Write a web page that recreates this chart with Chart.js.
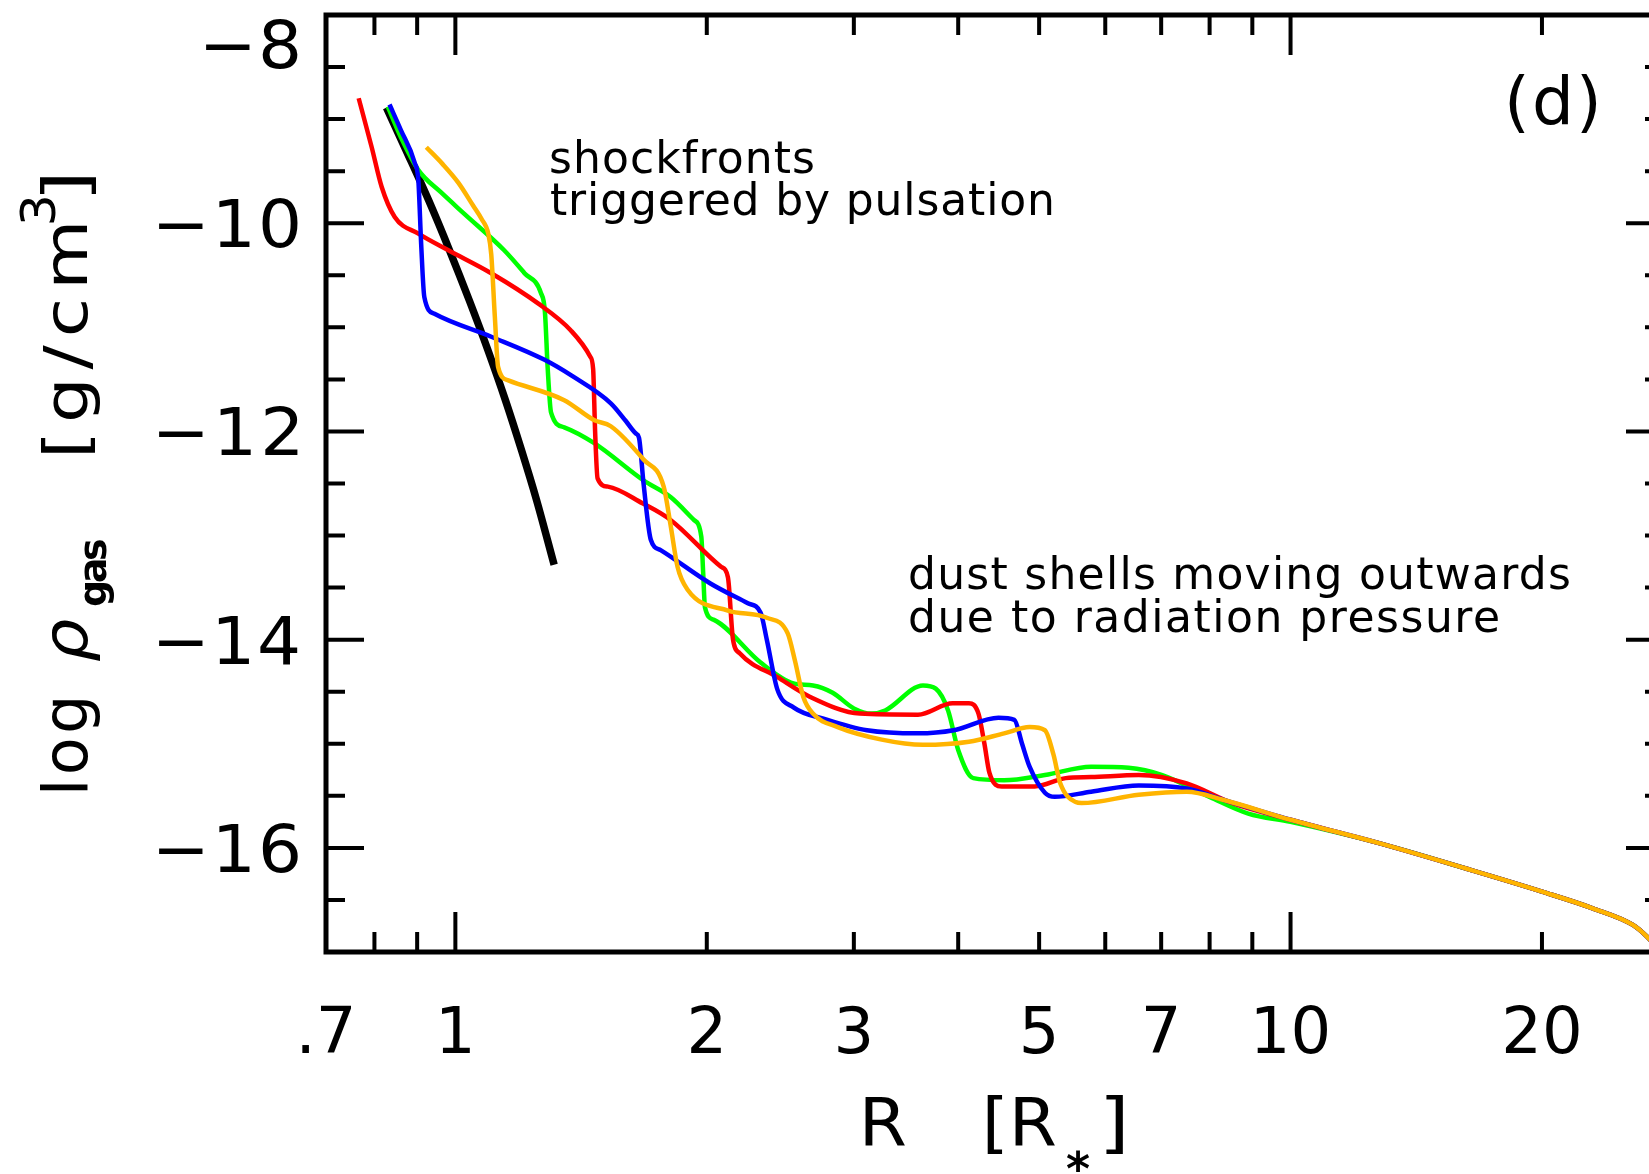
<!DOCTYPE html>
<html>
<head>
<meta charset="utf-8">
<script src="https://cdn.jsdelivr.net/npm/chart.js@4.4.1/dist/chart.umd.min.js"></script>
<style>
  html, body { margin: 0; padding: 0; background: #fff; overflow: hidden; }
  #wrap { position: relative; width: 1700px; height: 1174px; }
</style>
</head>
<body>
<div id="wrap"><canvas id="chart"></canvas></div>
<script>
  // Axis ticks
  const xTickValues = [0.7, 0.8, 0.9, 1, 2, 3, 4, 5, 6, 7, 8, 9, 10, 20];
  const xMajorValues = [1, 10];
  const xLabelValues = [0.7, 1, 2, 3, 5, 7, 10, 20];
  const xLabels = ['.7', '1', '2', '3', '5', '7', '10', '20'];
  const yTickValues = [-17, -16.5, -16, -15.5, -15, -14.5, -14, -13.5, -13, -12.5, -12, -11.5, -11, -10.5, -10, -9.5, -9, -8.5, -8];
  const yLabelValues = [-16, -14, -12, -10, -8];
  const yLabels = ['\u221216', '\u221214', '\u221212', '\u221210', '\u22128'];

  // Outer part, common to all four phases
  const tailR = [12.7, 16.4, 20, 23, 25.7, 26.7, 28];
  const tailRho = [-15.95, -16.21, -16.42, -16.58, -16.74, -16.85, -17.03];

  // Hydrostatic initial model (black)
  const blackR = [0.827, 0.873, 0.929, 0.984, 1.039, 1.094, 1.148, 1.200, 1.251, 1.313];
  const blackRho = [-8.89, -9.30, -9.78, -10.26, -10.74, -11.22, -11.70, -12.18, -12.66, -13.28];

  // Phases
  const redR = [0.766, 0.794, 0.816, 0.846, 0.903, 0.981, 1.104, 1.256, 1.375, 1.45, 1.462, 1.47, 1.48, 1.523, 1.675, 1.81, 2.08, 2.12, 2.15, 2.19, 2.43, 2.66, 3.05, 3.58, 3.94, 4.12, 4.23, 4.30, 4.36, 4.51, 4.94, 5.38, 5.77, 6.58, 7.51, 8.52, 10.0];
  const redRho = [-8.80, -9.27, -9.65, -9.94, -10.10, -10.26, -10.48, -10.77, -11.03, -11.28, -11.40, -12.0, -12.45, -12.53, -12.69, -12.85, -13.30, -13.40, -14.00, -14.13, -14.36, -14.55, -14.71, -14.72, -14.61, -14.61, -14.71, -15.0, -15.28, -15.41, -15.41, -15.33, -15.32, -15.30, -15.38, -15.57, -15.73];

  const greenR = [0.83, 0.86, 0.903, 0.96, 1.025, 1.144, 1.21, 1.266, 1.28, 1.29, 1.302, 1.35, 1.465, 1.68, 1.81, 1.93, 1.97, 1.98, 1.99, 2.04, 2.32, 2.54, 2.68, 2.83, 3.0, 3.15, 3.27, 3.63, 3.76, 3.89, 4.00, 4.17, 4.54, 5.08, 5.77, 6.40, 7.02, 8.0, 8.9, 10.0];
  const greenRho = [-8.88, -9.17, -9.49, -9.70, -9.91, -10.26, -10.48, -10.67, -10.85, -11.40, -11.82, -11.96, -12.11, -12.47, -12.63, -12.85, -13.01, -13.35, -13.69, -13.81, -14.22, -14.42, -14.44, -14.51, -14.66, -14.71, -14.68, -14.44, -14.47, -14.68, -15.06, -15.33, -15.35, -15.30, -15.22, -15.23, -15.30, -15.51, -15.67, -15.75];

  const blueR = [0.834, 0.86, 0.894, 0.903, 0.91, 0.918, 0.944, 1.104, 1.277, 1.375, 1.535, 1.60, 1.645, 1.659, 1.68, 1.714, 1.761, 2.02, 2.24, 2.32, 2.36, 2.43, 2.54, 2.79, 3.11, 3.58, 3.95, 4.47, 4.67, 4.77, 4.87, 5.08, 5.22, 5.77, 6.58, 7.51, 8.32, 10.0];
  const blueRho = [-8.86, -9.10, -9.42, -9.59, -10.2, -10.71, -10.87, -11.09, -11.31, -11.46, -11.73, -11.90, -12.02, -12.06, -12.5, -13.04, -13.14, -13.46, -13.65, -13.74, -14.0, -14.48, -14.65, -14.77, -14.87, -14.90, -14.87, -14.75, -14.77, -15.0, -15.22, -15.47, -15.51, -15.46, -15.40, -15.43, -15.54, -15.73];

  const orangeR = [0.923, 0.965, 1.008, 1.05, 1.075, 1.095, 1.104, 1.115, 1.125, 1.157, 1.35, 1.465, 1.535, 1.68, 1.776, 1.81, 1.845, 1.897, 2.12, 2.36, 2.50, 2.55, 2.61, 2.68, 2.87, 3.24, 3.63, 4.12, 4.54, 4.87, 5.08, 5.2, 5.30, 5.53, 5.62, 6.58, 7.51, 8.32, 10.0];
  const orangeRho = [-9.27, -9.43, -9.61, -9.83, -9.96, -10.10, -10.30, -10.9, -11.38, -11.51, -11.70, -11.89, -11.95, -12.27, -12.53, -12.9, -13.30, -13.52, -13.72, -13.79, -13.94, -14.2, -14.55, -14.71, -14.84, -14.96, -15.01, -14.98, -14.90, -14.84, -14.87, -15.1, -15.38, -15.56, -15.57, -15.49, -15.46, -15.54, -15.73];

  const FONT = '"DejaVu Sans", sans-serif';

  function points(rs, rhos, withTail) {
    const pts = rs.map((r, i) => ({ x: r, y: rhos[i] }));
    if (withTail) tailR.forEach((r, i) => pts.push({ x: r, y: tailRho[i] }));
    return pts;
  }

  function line(pts, color, width) {
    return {
      data: pts,
      borderColor: color,
      borderWidth: width,
      pointRadius: 0,
      fill: false,
      cubicInterpolationMode: 'monotone',
      borderJoinStyle: 'round',
      borderCapStyle: 'butt'
    };
  }

  // draw text so that its ink starts at inkLeft and spans inkWidth,
  // widening the glyphs by `stretch` and spreading the rest as letter spacing
  function fitText(ctx, text, inkLeft, y, inkWidth, stretch) {
    const sx = stretch || 1;
    ctx.save();
    ctx.translate(inkLeft, y);
    ctx.scale(sx, 1);
    ctx.textAlign = 'left';
    ctx.letterSpacing = '0px';
    let m = ctx.measureText(text);
    const ink = m.actualBoundingBoxLeft + m.actualBoundingBoxRight;
    const ls = text.length > 1 && inkWidth ? (inkWidth / sx - ink) / (text.length - 1) : 0;
    ctx.letterSpacing = ls + 'px';
    m = ctx.measureText(text);
    ctx.fillText(text, m.actualBoundingBoxLeft, 0);
    ctx.restore();
  }

  // box, inward ticks, y labels, titles and notes
  const framePlugin = {
    id: 'frame',
    afterDraw(chart) {
      const { ctx, chartArea: a } = chart;
      const xs = chart.scales.x, ys = chart.scales.y;
      ctx.save();
      ctx.strokeStyle = '#000';
      ctx.lineWidth = 5;
      ctx.strokeRect(a.left, a.top, a.right - a.left, a.bottom - a.top);

      ctx.lineWidth = 4;
      ctx.beginPath();
      xTickValues.forEach(v => {
        const px = xs.getPixelForValue(v);
        const len = xMajorValues.includes(v) ? 40 : 20;
        ctx.moveTo(px, a.bottom); ctx.lineTo(px, a.bottom - len);
        ctx.moveTo(px, a.top); ctx.lineTo(px, a.top + len);
      });
      yTickValues.forEach(v => {
        const py = ys.getPixelForValue(v);
        const len = yLabelValues.includes(v) ? 38 : 19;
        ctx.moveTo(a.left, py); ctx.lineTo(a.left + len, py);
        ctx.moveTo(a.right, py); ctx.lineTo(a.right - len, py);
      });
      ctx.stroke();

      ctx.fillStyle = '#000';
      ctx.textBaseline = 'alphabetic';
      // y tick labels
      ctx.font = '66px ' + FONT;
      yLabelValues.forEach((v, i) => {
        const py = Math.max(ys.getPixelForValue(v), a.top + 29);
        const w = yLabels[i].length > 2 ? 139 : 92;
        fitText(ctx, yLabels[i], 298 - w, py + 24, w, 1.05);
      });

      // y title, rotated
      ctx.save();
      ctx.translate(87, 791);
      ctx.rotate(-Math.PI / 2);
      ctx.font = '62px ' + FONT;
      fitText(ctx, 'log', 0, 0, 91);
      ctx.font = 'italic 62px ' + FONT;
      fitText(ctx, '\u03c1', 130, 0, 0, 1.1);
      ctx.font = 'bold 38px ' + FONT;
      fitText(ctx, 'gas', 185, 19, 66);
      ctx.font = '60px ' + FONT;
      fitText(ctx, '[g/cm', 338, 0, 228, 1.2);
      ctx.font = '48px ' + FONT;
      fitText(ctx, '3', 568, -32, 0, 1.05);
      ctx.font = '62px ' + FONT;
      fitText(ctx, ']', 597, 0, 0, 1.3);
      ctx.restore();

      // x title
      ctx.font = '66px ' + FONT;
      fitText(ctx, 'R', 865, 1145, 0, 1.05);
      fitText(ctx, '[R', 987, 1145, 68, 1.05);
      fitText(ctx, ']', 1106, 1145, 0, 1.2);
      ctx.font = 'bold 46px ' + FONT;
      const m = ctx.measureText('*');
      fitText(ctx, '*', 1066, 1161 + (m.actualBoundingBoxAscent - m.actualBoundingBoxDescent) / 2, 0);

      // panel label and notes
      ctx.font = '66px ' + FONT;
      fitText(ctx, '(d)', 1509, 124, 88);
      ctx.font = '44px ' + FONT;
      fitText(ctx, 'shockfronts', 551, 173, 262);
      fitText(ctx, 'triggered by pulsation', 551, 215, 501);
      fitText(ctx, 'dust shells moving outwards', 910, 589, 659);
      fitText(ctx, 'due to radiation pressure', 910, 632, 588);
      ctx.restore();
    }
  };

  new Chart(document.getElementById('chart'), {
    type: 'line',
    data: {
      datasets: [
        line(points(orangeR, orangeRho, true), '#ffb400', 4.5),
        line(points(blueR, blueRho, true), '#0000ff', 4.5),
        line(points(redR, redRho, true), '#ff0000', 4.5),
        line(points(greenR, greenRho, true), '#00ff00', 4.5),
        line(points(blackR, blackRho, false), '#000000', 7.5)
      ]
    },
    options: {
      responsive: true,
      maintainAspectRatio: false,
      animation: false,
      events: [],
      layout: { padding: { left: 326, top: 15, right: 36, bottom: 0 } },
      plugins: { legend: { display: false }, tooltip: { enabled: false } },
      scales: {
        x: {
          type: 'logarithmic',
          min: 0.7,
          max: 28,
          grid: { display: false, drawTicks: false },
          border: { display: false },
          afterBuildTicks: s => { s.ticks = xTickValues.map(v => ({ value: v })); },
          afterFit: s => { s.height = 222; },
          ticks: {
            autoSkip: false,
            maxRotation: 0,
            minRotation: 0,
            padding: 46,
            color: '#000',
            font: { family: FONT, size: 64 },
            callback: v => {
              const i = xLabelValues.findIndex(l => Math.abs(l - v) < 1e-9);
              return i >= 0 ? xLabels[i] : '';
            }
          }
        },
        y: {
          type: 'linear',
          min: -17,
          max: -8,
          display: false
        }
      }
    },
    plugins: [framePlugin]
  });
</script>
</body>
</html>
